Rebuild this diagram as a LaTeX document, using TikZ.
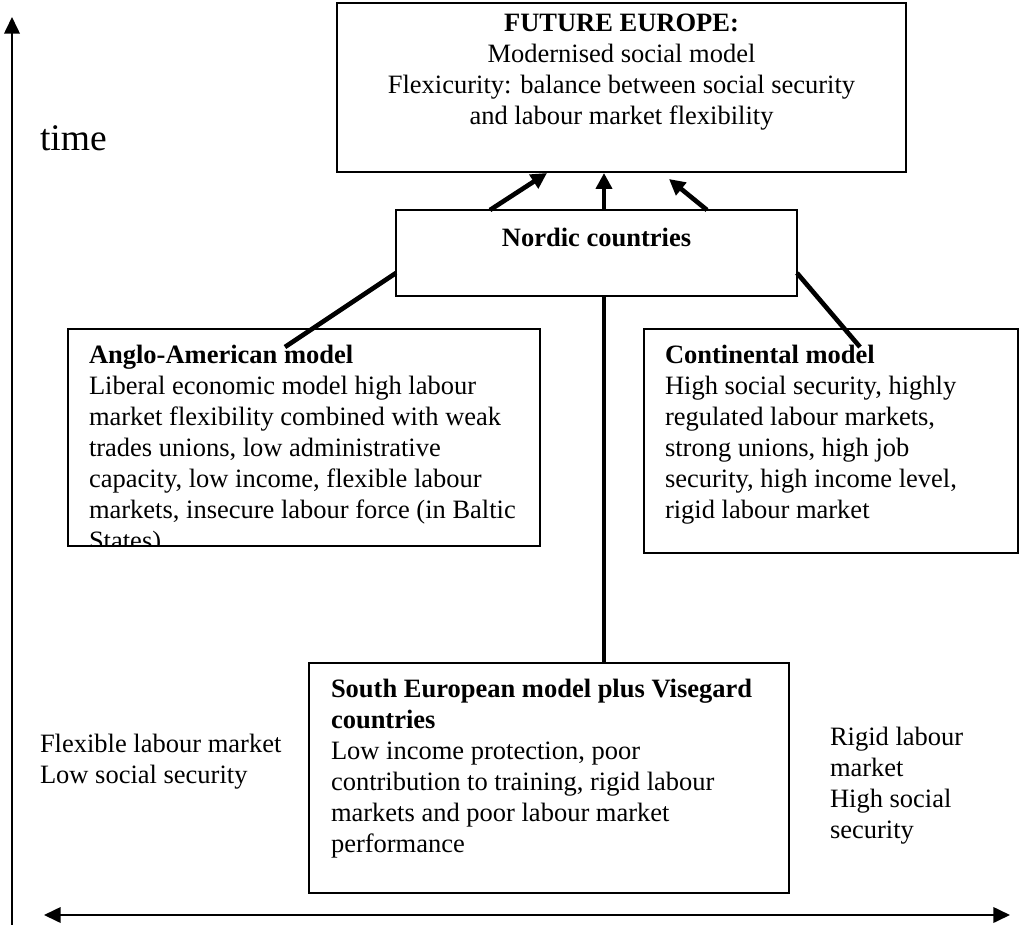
\documentclass[tikz,border=0pt]{standalone}
\usepackage{fontspec}
\setmainfont{Liberation Serif}
\usetikzlibrary{arrows.meta}
\newlength\pxu
\setlength\pxu{0.4528pt}
\begin{document}
\begin{tikzpicture}[x=0.4528pt,y=-0.4528pt,
  box/.style={draw, line width=0.65pt, inner sep=0pt, outer sep=0pt},
  txt/.style={anchor=base west, inner sep=0pt, outer sep=0pt, font=\fontsize{12}{14}\selectfont},
  btxt/.style={txt, font=\fontsize{12}{14}\selectfont\bfseries},
  ctxt/.style={txt, anchor=base},
  cbtxt/.style={btxt, anchor=base},
  axis/.style={line width=0.9pt},
  thick line/.style={line width=2.1pt},
  tipA/.tip={Triangle[length=7.2pt,width=7.2pt]},
  tipB/.tip={Triangle[length=7.5pt,width=7pt]}]
\useasboundingbox (0,0) rectangle (1021,925);

% axes
\coordinate (vb) at (12,925);
\coordinate (vt) at (12,17);
\draw[axis,-tipB] (vb) -- (vt);
\coordinate (hl) at (44,915);
\coordinate (hr) at (1010,915);
\draw[axis,tipB-tipB] (hl) -- (hr);
\node[txt, font=\fontsize{17}{20}\selectfont] (time) at (40,150) {time};

% boxes
\node[box, minimum width=569\pxu, minimum height=169\pxu] (future) at (621.5,87.5) {};
\node[box, minimum width=401\pxu, minimum height=86\pxu] (nordic) at (596.5,253) {};
\node[box, minimum width=472\pxu, minimum height=217\pxu] (anglo) at (304,437.5) {};
\node[box, minimum width=374\pxu, minimum height=224\pxu] (conti) at (831,441) {};
\node[box, minimum width=480\pxu, minimum height=230\pxu] (south) at (549,778) {};

% future text
\node[cbtxt] (f1) at (621.5,31) {FUTURE EUROPE:};
\node[ctxt] (f2) at (621.5,62) {Modernised social model};
\node[ctxt] (f3) at (621.5,93) {Flexicurity: balance between social security};
\node[ctxt] (f4) at (621.5,124) {and labour market flexibility};

% nordic text
\node[cbtxt] (n1) at (596.5,246) {Nordic countries};

% anglo text (clipped by its box)
\begin{scope}
\clip (68,329) rectangle (540,546);
\node[btxt] (a1) at (89,363) {Anglo-American model};
\node[txt] (a2) at (89,394) {Liberal economic model high labour};
\node[txt] (a3) at (89,425) {market flexibility combined with weak};
\node[txt] (a4) at (89,456) {trades unions, low administrative};
\node[txt] (a5) at (89,487) {capacity, low income, flexible labour};
\node[txt] (a6) at (89,518) {markets, insecure labour force (in Baltic};
\node[txt] (a7) at (89,549) {States)};
\end{scope}

% continental text
\node[btxt] (c1) at (665,363) {Continental model};
\node[txt] (c2) at (665,394) {High social security, highly};
\node[txt] (c3) at (665,425) {regulated labour markets,};
\node[txt] (c4) at (665,456) {strong unions, high job};
\node[txt] (c5) at (665,487) {security, high income level,};
\node[txt] (c6) at (665,518) {rigid labour market};

% south text
\node[btxt] (s1) at (331,697) {South European model plus Visegard};
\node[btxt] (s2) at (331,728) {countries};
\node[txt] (s3) at (331,759) {Low income protection, poor};
\node[txt] (s4) at (331,790) {contribution to training, rigid labour};
\node[txt] (s5) at (331,821) {markets and poor labour market};
\node[txt] (s6) at (331,852) {performance};

% side labels
\node[txt] (l1) at (40,752) {Flexible labour market};
\node[txt] (l2) at (40,783) {Low social security};
\node[txt] (r1) at (830,745) {Rigid labour};
\node[txt] (r2) at (830,776) {market};
\node[txt] (r3) at (830,807) {High social};
\node[txt] (r4) at (830,838) {security};

% connectors
\coordinate (nl) at (396,273);
\coordinate (ae) at (285,347);
\draw[thick line] (nl) -- (ae);
\coordinate (nr) at (797,273);
\coordinate (ce) at (860,347);
\draw[thick line] (nr) -- (ce);
\coordinate (sv) at (604,663);
\coordinate (nb) at (604,296);
\draw[thick line] (sv) -- (nb);

% arrows to future
\coordinate (t1) at (490,210);
\coordinate (h1) at (547,173);
\coordinate (t2) at (604,210);
\coordinate (h2) at (604,173);
\coordinate (t3) at (707,210);
\coordinate (h3) at (669,179);
\draw[thick line,-tipA] (t1) -- (h1);
\draw[thick line,-tipA] (t2) -- (h2);
\draw[thick line,-tipA] (t3) -- (h3);
\end{tikzpicture}
\end{document}
